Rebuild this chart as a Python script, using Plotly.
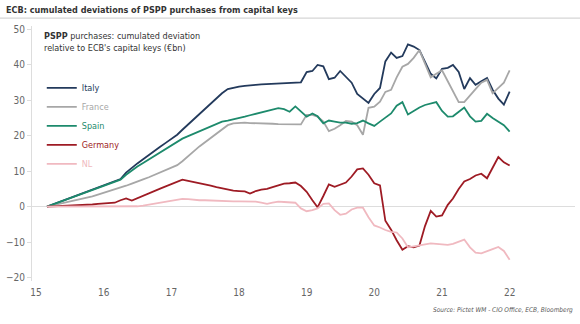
import pandas as pd
import plotly.graph_objects as go

dates = pd.date_range("2015-03-01", "2022-01-01", freq="MS")

italy = [0, 0.6, 1.2, 1.8, 2.4, 3.0, 3.6, 4.2, 4.8, 5.4,
         6.0, 6.6, 7.2, 7.8, 9.6, 11.0, 12.2, 13.4, 14.5, 15.7, 16.9, 18.0,
         19.1, 20.3, 21.7, 23.2, 24.7, 26.2, 27.7, 29.2, 30.6, 32.0, 33.2, 33.6,
         33.9, 34.1, 34.3, 34.4, 34.5, 34.6, 34.7, 34.8, 34.9, 35.0, 35.1, 35.1,
         38.0, 38.3, 40.0, 39.6, 36.0, 36.4, 38.3, 36.5, 35.0, 31.8, 30.5, 29.3,
         31.8, 33.5, 41.0, 43.5, 42.0, 42.5, 45.8, 45.2, 44.2, 41.0, 37.5, 36.2,
         38.9, 39.2, 40.0, 38.0, 33.2, 36.3, 34.4, 35.4, 36.3, 33.0, 30.5, 28.8,
         32.5]
france = [0, 0.35, 0.7, 1.05, 1.4, 1.75, 2.1, 2.5, 2.9, 3.4,
          3.9, 4.3, 4.8, 5.3, 5.9, 6.5, 7.0, 7.7, 8.3, 9.0, 9.6, 10.3,
          11.0, 11.7, 12.8, 14.1, 15.6, 17.0, 18.2, 19.5, 20.8, 22.0, 23.0, 23.5,
          23.7, 23.7, 23.6, 23.6, 23.5, 23.5, 23.4, 23.3, 23.3, 23.2, 23.1, 23.2,
          25.9, 25.9, 25.4, 24.0, 21.3, 22.0, 23.0, 24.2, 24.0, 23.0, 20.3, 27.9,
          28.2, 29.6, 32.4, 33.0, 36.5, 39.5, 40.3, 42.0, 44.2, 40.5, 36.5, 37.5,
          38.5, 35.4, 32.8, 29.5, 29.5, 31.5, 33.2, 35.0, 35.8, 32.0, 33.5, 35.0,
          38.5]
spain = [0, 0.6, 1.2, 1.8, 2.4, 3.0, 3.5, 4.1, 4.7, 5.3,
         5.8, 6.4, 7.0, 7.6, 9.0, 10.3, 11.3, 12.3, 13.3, 14.3, 15.2, 16.2,
         17.2, 18.1, 19.2, 19.9, 20.6, 21.3, 22.0, 22.7, 23.3, 24.0, 24.3, 24.6,
         25.0, 25.4, 25.8, 26.2, 26.6, 27.0, 27.4, 27.8, 27.5, 26.8, 28.3, 27.0,
         25.4, 26.3, 25.5, 23.5, 24.3, 24.0, 23.7, 23.7, 23.4, 23.6, 24.3, 23.5,
         22.8, 24.0, 25.0, 26.3, 28.5, 29.5, 26.0, 27.0, 28.0, 28.7, 29.0, 29.5,
         27.0, 25.4, 25.5, 26.8, 28.0, 25.5, 24.0, 24.2, 26.2, 25.0, 24.0, 23.0,
         21.2]
germany = [0, 0.05, 0.1, 0.15, 0.2, 0.3, 0.4, 0.5, 0.6, 0.75,
           0.85, 0.95, 1.1, 1.8, 2.3, 1.7, 2.4, 3.1, 3.8, 4.5, 5.1, 5.7,
           6.3, 7.0, 7.6, 7.3, 7.0, 6.6, 6.3, 5.9, 5.5, 5.1, 4.7, 4.5,
           4.4, 4.3, 3.7, 4.4, 4.8, 5.0, 5.5, 6.0, 6.5, 6.6, 6.8, 5.8,
           4.2, 1.8, -0.2, 3.0, 6.3, 5.6, 6.3, 6.8, 8.5, 10.5, 10.8, 9.0,
           6.6, 6.0, -4.0, -6.5, -9.5, -12.2, -11.2, -11.5, -11.0, -5.5, -1.2, -2.8,
           -2.5, 0.5, 2.3, 5.0, 7.1, 7.8, 8.8, 9.3, 8.0, 11.0, 14.0, 12.5,
           11.6]
nl = [0, 0.0, 0.0, -0.1, -0.1, -0.1, 0.0, 0.0, 0.0, 0.0,
      0.0, 0.0, 0.0, 0.0, 0.0, 0.0, 0.1, 0.3, 0.6, 0.9, 1.1, 1.4,
      1.6, 1.9, 2.2, 2.1, 1.9, 1.8, 1.8, 1.7, 1.7, 1.6, 1.6, 1.5,
      1.5, 1.5, 1.4, 1.4, 1.1, 0.8, 1.1, 1.4, 1.3, 1.2, 1.1, -0.5,
      -1.3, -1.0, -0.5, 0.8, 0.9, -1.0, -2.3, -2.0, -0.8, -0.3, -0.3, -3.0,
      -5.3, -5.9, -6.6, -7.1, -7.3, -9.0, -11.5, -11.2, -11.0, -10.7, -10.4, -10.5,
      -10.6, -10.8, -10.5, -10.0, -9.3, -11.5, -13.0, -13.2, -12.5, -12.0, -11.4, -12.5,
      -15.0]

series_names = ["Italy", "France", "Spain", "Germany", "NL"]
series_values = [italy, france, spain, germany, nl]
series_colors = ["#233a5c", "#a7a7a7", "#1d8a6c", "#9e1b24", "#f0b9c0"]

y_ticks = [-20, -10, 0, 10, 20, 30, 40, 50]
x_ticks = pd.date_range("2015-01-01", "2022-01-01", freq="YS")
x_tick_labels = ["15", "16", "17", "18", "19", "20", "21", "22"]

FONT = "DejaVu Sans Condensed, Liberation Sans Narrow, DejaVu Sans, sans-serif"


def f(size, color="#666666"):
    return dict(family=FONT, size=size, color=color)


fig = go.Figure()
for name, vals, col in zip(series_names, series_values, series_colors):
    fig.add_trace(go.Scatter(
        x=dates, y=vals, mode="lines", name=f"<span style='color:{col}'>{name}</span>",
        line=dict(color=col, width=1.8),
    ))

fig.update_layout(
    width=580, height=324,
    margin=dict(l=32, r=5, t=26, b=43),
    paper_bgcolor="white", plot_bgcolor="white",
    font=f(10),
    showlegend=True,
    legend=dict(x=0.018, y=0.814, xanchor="left", yanchor="top",
                font=f(9), bgcolor="rgba(0,0,0,0)",
                itemwidth=30, tracegroupgap=0),
    xaxis=dict(range=["2014-12-10", "2022-12-20"], tickvals=x_ticks, ticktext=x_tick_labels,
               showgrid=False, showline=False, zeroline=False, ticks="",
               ticklabelstandoff=4, tickfont=f(10)),
    yaxis=dict(range=[-21, 51], tickvals=y_ticks, showgrid=False,
               showline=True, linecolor="#dddddd", linewidth=1,
               ticks="outside", ticklen=4, tickcolor="#dddddd",
               zeroline=True, zerolinecolor="#dddddd", zerolinewidth=1,
               tickfont=f(10)),
)

fig.add_annotation(
    text="<b>ECB: cumulated deviations of PSPP purchases from capital keys</b>",
    xref="paper", yref="paper", x=-0.052, y=1.063, xanchor="left", yanchor="middle",
    showarrow=False, font=f(9, "#333333"),
)
fig.add_shape(type="line", xref="paper", yref="paper", x0=-0.06, x1=1.01, y0=1.031, y1=1.031,
              line=dict(color="#cccccc", width=1))

fig.add_annotation(
    text="<b>PSPP</b> purchases: cumulated deviation<br>relative to ECB's capital keys (€bn)",
    xref="paper", yref="paper", x=0.018, y=0.99, xanchor="left", yanchor="top", align="left",
    showarrow=False, font=f(9, "#333333"),
)
fig.add_annotation(
    text="<i>Source: Pictet WM - CIO Office, ECB, Bloomberg</i>",
    xref="paper", yref="paper", x=1.0, y=-0.09, xanchor="right", yanchor="top",
    showarrow=False, font=f(6.5, "#555555"),
)

fig.write_html("out.html")
